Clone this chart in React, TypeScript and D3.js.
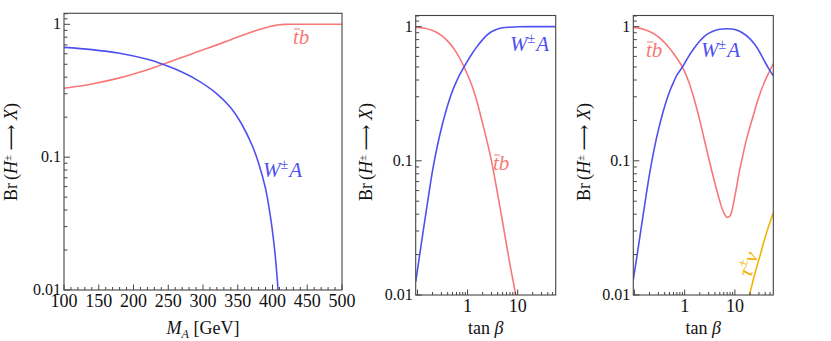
import React from 'react';
import * as d3 from 'd3';

// panel 1: Br vs M_A
const massA = [100, 140, 180, 220, 240, 260, 290, 320, 340, 355, 370, 380, 390, 398, 404, 408];
const leftWA = [0.67, 0.645, 0.605, 0.545, 0.505, 0.46, 0.385, 0.3, 0.235, 0.18, 0.125, 0.09, 0.058, 0.033, 0.018, 0.01];
const massTb = [100, 140, 180, 220, 240, 260, 290, 320, 340, 355, 370, 380, 390, 398, 404, 410, 418, 430, 460, 500];
const leftTb = [0.33, 0.355, 0.395, 0.455, 0.495, 0.54, 0.615, 0.7, 0.765, 0.82, 0.875, 0.91, 0.942, 0.967, 0.982, 0.992, 0.998, 1, 1, 1];

// panel 2: Br vs tan beta
const tanMidWA = [0.092, 0.11, 0.13, 0.16, 0.2, 0.25, 0.3, 0.37, 0.44, 0.52, 0.6, 0.7, 0.85, 1, 1.2, 1.5, 2, 2.5, 3, 4, 5, 7, 10, 20, 57.5];
const midWA = [0.0125, 0.0197, 0.03, 0.05, 0.085, 0.13, 0.175, 0.235, 0.29, 0.345, 0.39, 0.44, 0.5, 0.555, 0.62, 0.7, 0.8, 0.87, 0.915, 0.96, 0.98, 0.99, 0.997, 1, 1];
const tanMidTb = [0.092, 0.13, 0.2, 0.3, 0.44, 0.6, 0.85, 1.2, 1.5, 2, 2.5, 3, 4, 5, 7, 9.5, 12];
const midTb = [0.987, 0.975, 0.935, 0.86, 0.75, 0.64, 0.5, 0.37, 0.285, 0.19, 0.135, 0.1, 0.056, 0.035, 0.017, 0.0093, 0.0058];

// panel 3: Br vs tan beta, with tau nu
const tanRightWA = [0.095, 0.11, 0.13, 0.16, 0.2, 0.25, 0.3, 0.37, 0.44, 0.52, 0.6, 0.7, 0.9, 1.2, 1.5, 2, 2.5, 3, 4, 5, 7, 10, 14, 20, 28, 38, 48, 58];
const rightWA = [0.013, 0.0185, 0.028, 0.047, 0.08, 0.125, 0.17, 0.23, 0.285, 0.34, 0.385, 0.435, 0.5, 0.6, 0.68, 0.78, 0.85, 0.89, 0.935, 0.955, 0.965, 0.95, 0.9, 0.81, 0.69, 0.56, 0.48, 0.43];
const tanRightTb = [0.095, 0.13, 0.2, 0.3, 0.44, 0.6, 0.9, 1.2, 1.5, 2, 2.5, 3, 4, 5, 6, 7, 8, 10, 12, 14, 17, 20, 25, 30, 38, 48, 58];
const rightTb = [0.985, 0.97, 0.92, 0.84, 0.73, 0.63, 0.5, 0.39, 0.3, 0.2, 0.14, 0.105, 0.068, 0.05, 0.041, 0.038, 0.039, 0.055, 0.08, 0.105, 0.145, 0.18, 0.24, 0.3, 0.38, 0.46, 0.53];
const tanTau = [19.5, 25, 32, 40, 50, 58];
const rightTau = [0.01, 0.0145, 0.02, 0.027, 0.035, 0.041];

const yTicks = [1, 0.1, 0.01];
const massTicks = [100, 150, 200, 250, 300, 350, 400, 450, 500];
const tanTicks = [1, 10];

const BLUE = '#5050f0';
const RED = '#f87878';
const ORANGE = '#f2b300';
const FRAME = '#444';
const FONT = '"Liberation Serif", "DejaVu Serif", serif';

type Series = { xs: number[]; ys: number[]; color: string };

const pair = (xs: number[], ys: number[]) => xs.map((x, i) => [x, ys[i]] as [number, number]);

function YLabel({ x, y }: { x: number; y: number }) {
  return (
    <text transform={`translate(${x},${y}) rotate(-90)`} textAnchor="middle" fontFamily={FONT} fontSize={18} fill="#111">
      Br<tspan dx={3}>(</tspan>
      <tspan fontStyle="italic">H</tspan>
      <tspan dy={-6} fontSize={11}>±</tspan>
      <tspan dy={6}> ⟶ </tspan>
      <tspan fontStyle="italic">X</tspan>)
    </text>
  );
}

function WA({ x, y }: { x: number; y: number }) {
  return (
    <text x={x} y={y} fontFamily={FONT} fontSize={21} fill={BLUE}>
      <tspan fontStyle="italic">W</tspan>
      <tspan dy={-8} fontSize={14}>±</tspan>
      <tspan dy={8} dx={1} fontStyle="italic">A</tspan>
    </text>
  );
}

function TB({ x, y }: { x: number; y: number }) {
  return (
    <g>
      <text x={x} y={y} fontFamily={FONT} fontSize={21} fontStyle="italic" fill={RED}>tb</text>
      <line x1={x + 1} x2={x + 7} y1={y - 15} y2={y - 15} stroke={RED} strokeWidth={1} />
    </g>
  );
}

function Panel(props: {
  id: string;
  left: number; right: number; top: number; bottom: number;
  xScale: any; yScale: any; logX: boolean;
  series: Series[];
  xLabel: React.ReactNode;
  yLabelX: number;
  children?: React.ReactNode;
}) {
  const { id, left, right, top, bottom, xScale, yScale, logX, series } = props;
  const line = d3.line<[number, number]>()
    .x(d => xScale(d[0]))
    .y(d => yScale(d[1]))
    .curve(d3.curveCatmullRom.alpha(0.5));

  // y ticks: decades + minor
  const yMinor: number[] = [];
  [0.01, 0.1].forEach(dec => { for (let k = 2; k <= 9; k++) yMinor.push(dec * k); });
  const yDom = yScale.domain();
  const yExtra = [1.1, 1.2].filter(v => v <= yDom[1]);

  // x ticks
  const xMajor: number[] = [];
  const xMinor: number[] = [];
  const xd = xScale.domain();
  if (logX) {
    [0.1, 1, 10].forEach(dec => {
      for (let k = 1; k <= 9; k++) {
        const v = dec * k;
        if (v < xd[0] || v > xd[1]) continue;
        if (k === 1) xMajor.push(v); else xMinor.push(v);
      }
    });
  } else {
    for (let v = xd[0]; v <= xd[1]; v += 10) {
      if (v % 50 === 0) xMajor.push(v); else xMinor.push(v);
    }
  }
  const xLabels = logX ? tanTicks : massTicks;

  return (
    <g>
      <defs>
        <clipPath id={id}>
          <rect x={left} y={top} width={right - left} height={bottom - top} />
        </clipPath>
      </defs>
      <g clipPath={`url(#${id})`}>
        {series.map((s, i) => (
          <path key={i} d={line(pair(s.xs, s.ys)) || ''} fill="none" stroke={s.color} strokeWidth={1.6} />
        ))}
      </g>
      <rect x={left} y={top} width={right - left} height={bottom - top} fill="none" stroke={FRAME} strokeWidth={1.1} />
      {yTicks.map(v => (
        <g key={v}>
          <line x1={left} x2={left + 6} y1={yScale(v)} y2={yScale(v)} stroke={FRAME} />
          <text x={left - 3} y={yScale(v) + 5} textAnchor="end" fontFamily={FONT} fontSize={16} fill="#111">{v}</text>
        </g>
      ))}
      {yMinor.concat(yExtra).map(v => (
        <line key={v} x1={left} x2={left + 3.5} y1={yScale(v)} y2={yScale(v)} stroke={FRAME} />
      ))}
      {xMajor.map(v => (
        <line key={'M' + v} x1={xScale(v)} x2={xScale(v)} y1={bottom} y2={bottom - 5.5} stroke={FRAME} />
      ))}
      {xMinor.map(v => (
        <line key={'m' + v} x1={xScale(v)} x2={xScale(v)} y1={bottom} y2={bottom - 3} stroke={FRAME} />
      ))}
      {xLabels.map(v => (
        <text key={'l' + v} x={xScale(v)} y={bottom + 17} textAnchor="middle" fontFamily={FONT} fontSize={18} fill="#111">{v}</text>
      ))}
      <text x={(left + right) / 2} y={334} textAnchor="middle" fontFamily={FONT} fontSize={18} fill="#111">{props.xLabel}</text>
      <YLabel x={props.yLabelX} y={152} />
      {props.children}
    </g>
  );
}

export default function App() {
  const yLeft = d3.scaleLog().domain([0.01, 1.21]).range([290, 13.3]);
  const xLeft = d3.scaleLinear().domain([100, 500]).range([64, 342]);
  const yMid = d3.scaleLog().domain([0.01, 1.21]).range([295, 15.5]);
  const xMid = d3.scaleLog().domain([0.092, 57.5]).range([415.7, 555.7]);
  const yRight = d3.scaleLog().domain([0.01, 1.21]).range([295, 15.5]);
  const xRight = d3.scaleLog().domain([0.095, 58]).range([633.3, 773.3]);

  const tanLabel = (
    <>tan <tspan fontStyle="italic">β</tspan></>
  );

  return (
    <svg width={831} height={341} style={{ position: 'absolute', left: 0, top: 0, background: '#fff' }}>
      <Panel id="c1" left={64} right={342} top={13.3} bottom={290} xScale={xLeft} yScale={yLeft} logX={false}
        series={[{ xs: massTb, ys: leftTb, color: RED }, { xs: massA, ys: leftWA, color: BLUE }]}
        xLabel={<><tspan fontStyle="italic">M</tspan><tspan fontStyle="italic" fontSize={12} dy={4}>A</tspan><tspan dy={-4}> [GeV]</tspan></>}
        yLabelX={17}>
        <TB x={293} y={44} />
        <WA x={263} y={177} />
      </Panel>
      <Panel id="c2" left={415.7} right={555.7} top={15.5} bottom={295} xScale={xMid} yScale={yMid} logX={true}
        series={[{ xs: tanMidTb, ys: midTb, color: RED }, { xs: tanMidWA, ys: midWA, color: BLUE }]}
        xLabel={tanLabel} yLabelX={372}>
        <WA x={510} y={51} />
        <TB x={493} y={170} />
      </Panel>
      <Panel id="c3" left={633.3} right={773.3} top={15.5} bottom={295} xScale={xRight} yScale={yRight} logX={true}
        series={[{ xs: tanRightTb, ys: rightTb, color: RED }, { xs: tanRightWA, ys: rightWA, color: BLUE }, { xs: tanTau, ys: rightTau, color: ORANGE }]}
        xLabel={tanLabel} yLabelX={590}>
        <TB x={646} y={57} />
        <WA x={701} y={57} />
        <text transform="translate(751,278) rotate(-72)" fontFamily={FONT} fontSize={21} fill={ORANGE}>
          <tspan fontStyle="italic">τ</tspan>
          <tspan dy={-8} fontSize={14}>±</tspan>
          <tspan dy={8} fontStyle="italic">ν</tspan>
        </text>
      </Panel>
    </svg>
  );
}
